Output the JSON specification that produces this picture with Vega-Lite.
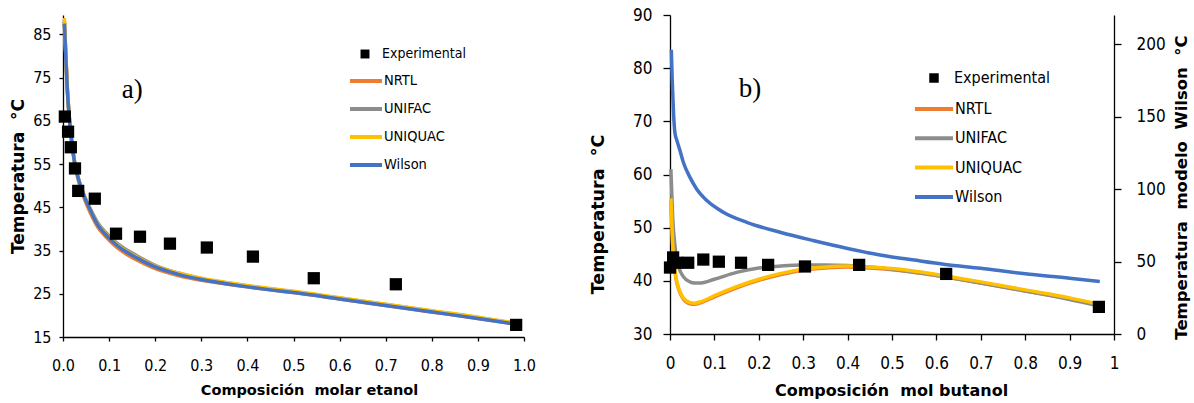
{
  "$schema": "https://vega.github.io/schema/vega-lite/v6.json",
  "padding": {"left": 9, "top": 6, "right": 5, "bottom": 5},
  "bounds": "flush",
  "spacing": 146,
  "background": "white",
  "config": {
    "view": {"stroke": null},
    "font": "DejaVu Sans Condensed, DejaVu Sans",
    "axis": {
      "grid": false, "domainColor": "black", "tickColor": "black", "labelColor": "black", "titleColor": "black",
      "domainWidth": 1.3, "tickWidth": 1.3, "labelFlush": false,
      "labelFont": "DejaVu Sans Condensed, DejaVu Sans", "labelFontSize": 16,
      "titleFont": "DejaVu Sans", "titleFontWeight": "bold", "titleFontSize": 16, "titleBaseline": "middle"
    },
    "legend": {"labelFont": "DejaVu Sans Condensed, DejaVu Sans", "labelColor": "black", "padding": 0}
  },
  "datasets": {
    "a_exp": [
      {"x": 0.004, "T": 66.0, "serie": "Experimental"},
      {"x": 0.011, "T": 62.5, "serie": "Experimental"},
      {"x": 0.017, "T": 58.9, "serie": "Experimental"},
      {"x": 0.026, "T": 54.0, "serie": "Experimental"},
      {"x": 0.033, "T": 48.8, "serie": "Experimental"},
      {"x": 0.069, "T": 47.0, "serie": "Experimental"},
      {"x": 0.115, "T": 38.9, "serie": "Experimental"},
      {"x": 0.167, "T": 38.2, "serie": "Experimental"},
      {"x": 0.232, "T": 36.6, "serie": "Experimental"},
      {"x": 0.312, "T": 35.7, "serie": "Experimental"},
      {"x": 0.412, "T": 33.6, "serie": "Experimental"},
      {"x": 0.544, "T": 28.6, "serie": "Experimental"},
      {"x": 0.722, "T": 27.2, "serie": "Experimental"},
      {"x": 0.983, "T": 17.8, "serie": "Experimental"}
    ],
    "a_models": [
      {"model": "NRTL", "x": 0.003, "T": 88.0}, {"model": "NRTL", "x": 0.006, "T": 80.5}, {"model": "NRTL", "x": 0.009, "T": 73.0},
      {"model": "NRTL", "x": 0.013, "T": 66.5}, {"model": "NRTL", "x": 0.018, "T": 60.8}, {"model": "NRTL", "x": 0.025, "T": 55.2},
      {"model": "NRTL", "x": 0.035, "T": 50.6}, {"model": "NRTL", "x": 0.047, "T": 46.8}, {"model": "NRTL", "x": 0.06, "T": 43.6},
      {"model": "NRTL", "x": 0.075, "T": 40.5}, {"model": "NRTL", "x": 0.09, "T": 38.5}, {"model": "NRTL", "x": 0.1, "T": 37.4},
      {"model": "NRTL", "x": 0.115, "T": 35.9}, {"model": "NRTL", "x": 0.13, "T": 34.7}, {"model": "NRTL", "x": 0.16, "T": 32.8},
      {"model": "NRTL", "x": 0.2, "T": 30.8}, {"model": "NRTL", "x": 0.25, "T": 29.2}, {"model": "NRTL", "x": 0.3, "T": 28.1},
      {"model": "NRTL", "x": 0.35, "T": 27.3}, {"model": "NRTL", "x": 0.4, "T": 26.6}, {"model": "NRTL", "x": 0.45, "T": 25.9},
      {"model": "NRTL", "x": 0.5, "T": 25.3}, {"model": "NRTL", "x": 0.6, "T": 23.8}, {"model": "NRTL", "x": 0.7, "T": 22.3},
      {"model": "NRTL", "x": 0.8, "T": 20.8}, {"model": "NRTL", "x": 0.9, "T": 19.3}, {"model": "NRTL", "x": 0.98, "T": 18.0},
      {"model": "UNIFAC", "x": 0.003, "T": 88.0}, {"model": "UNIFAC", "x": 0.006, "T": 80.5}, {"model": "UNIFAC", "x": 0.009, "T": 73.2},
      {"model": "UNIFAC", "x": 0.013, "T": 66.8}, {"model": "UNIFAC", "x": 0.018, "T": 61.2}, {"model": "UNIFAC", "x": 0.025, "T": 55.6},
      {"model": "UNIFAC", "x": 0.035, "T": 51.1}, {"model": "UNIFAC", "x": 0.047, "T": 47.5}, {"model": "UNIFAC", "x": 0.06, "T": 44.5},
      {"model": "UNIFAC", "x": 0.075, "T": 41.5}, {"model": "UNIFAC", "x": 0.09, "T": 39.5}, {"model": "UNIFAC", "x": 0.1, "T": 38.4},
      {"model": "UNIFAC", "x": 0.115, "T": 36.9}, {"model": "UNIFAC", "x": 0.13, "T": 35.7}, {"model": "UNIFAC", "x": 0.16, "T": 33.8},
      {"model": "UNIFAC", "x": 0.2, "T": 31.6}, {"model": "UNIFAC", "x": 0.25, "T": 29.8}, {"model": "UNIFAC", "x": 0.3, "T": 28.5},
      {"model": "UNIFAC", "x": 0.35, "T": 27.6}, {"model": "UNIFAC", "x": 0.4, "T": 26.8}, {"model": "UNIFAC", "x": 0.45, "T": 26.1},
      {"model": "UNIFAC", "x": 0.5, "T": 25.5}, {"model": "UNIFAC", "x": 0.6, "T": 24.0}, {"model": "UNIFAC", "x": 0.7, "T": 22.5},
      {"model": "UNIFAC", "x": 0.8, "T": 21.0}, {"model": "UNIFAC", "x": 0.9, "T": 19.5}, {"model": "UNIFAC", "x": 0.98, "T": 18.2},
      {"model": "UNIQUAC", "x": 0.003, "T": 88.8}, {"model": "UNIQUAC", "x": 0.006, "T": 81.0}, {"model": "UNIQUAC", "x": 0.009, "T": 73.5},
      {"model": "UNIQUAC", "x": 0.013, "T": 67.0}, {"model": "UNIQUAC", "x": 0.018, "T": 61.2}, {"model": "UNIQUAC", "x": 0.025, "T": 55.6},
      {"model": "UNIQUAC", "x": 0.035, "T": 51.1}, {"model": "UNIQUAC", "x": 0.047, "T": 47.4}, {"model": "UNIQUAC", "x": 0.06, "T": 44.3},
      {"model": "UNIQUAC", "x": 0.075, "T": 41.2}, {"model": "UNIQUAC", "x": 0.09, "T": 39.2}, {"model": "UNIQUAC", "x": 0.1, "T": 38.1},
      {"model": "UNIQUAC", "x": 0.115, "T": 36.6}, {"model": "UNIQUAC", "x": 0.13, "T": 35.4}, {"model": "UNIQUAC", "x": 0.16, "T": 33.5},
      {"model": "UNIQUAC", "x": 0.2, "T": 31.4}, {"model": "UNIQUAC", "x": 0.25, "T": 29.8}, {"model": "UNIQUAC", "x": 0.3, "T": 28.6},
      {"model": "UNIQUAC", "x": 0.35, "T": 27.7}, {"model": "UNIQUAC", "x": 0.4, "T": 26.9}, {"model": "UNIQUAC", "x": 0.45, "T": 26.2},
      {"model": "UNIQUAC", "x": 0.5, "T": 25.6}, {"model": "UNIQUAC", "x": 0.6, "T": 24.1}, {"model": "UNIQUAC", "x": 0.7, "T": 22.6},
      {"model": "UNIQUAC", "x": 0.8, "T": 21.1}, {"model": "UNIQUAC", "x": 0.9, "T": 19.6}, {"model": "UNIQUAC", "x": 0.98, "T": 18.2},
      {"model": "Wilson", "x": 0.003, "T": 87.5}, {"model": "Wilson", "x": 0.006, "T": 80.0}, {"model": "Wilson", "x": 0.009, "T": 73.0},
      {"model": "Wilson", "x": 0.013, "T": 66.5}, {"model": "Wilson", "x": 0.018, "T": 61.0}, {"model": "Wilson", "x": 0.025, "T": 55.5},
      {"model": "Wilson", "x": 0.035, "T": 51.0}, {"model": "Wilson", "x": 0.047, "T": 47.3}, {"model": "Wilson", "x": 0.06, "T": 44.2},
      {"model": "Wilson", "x": 0.075, "T": 41.0}, {"model": "Wilson", "x": 0.09, "T": 39.0}, {"model": "Wilson", "x": 0.1, "T": 37.9},
      {"model": "Wilson", "x": 0.115, "T": 36.4}, {"model": "Wilson", "x": 0.13, "T": 35.2}, {"model": "Wilson", "x": 0.16, "T": 33.3},
      {"model": "Wilson", "x": 0.2, "T": 31.2}, {"model": "Wilson", "x": 0.25, "T": 29.5}, {"model": "Wilson", "x": 0.3, "T": 28.3},
      {"model": "Wilson", "x": 0.35, "T": 27.4}, {"model": "Wilson", "x": 0.4, "T": 26.6}, {"model": "Wilson", "x": 0.45, "T": 25.9},
      {"model": "Wilson", "x": 0.5, "T": 25.3}, {"model": "Wilson", "x": 0.6, "T": 23.8}, {"model": "Wilson", "x": 0.7, "T": 22.3},
      {"model": "Wilson", "x": 0.8, "T": 20.8}, {"model": "Wilson", "x": 0.9, "T": 19.3}, {"model": "Wilson", "x": 0.98, "T": 18.0}
    ],
    "b_exp": [
      {"x": 0.0, "T": 42.5, "serie": "Experimental"},
      {"x": 0.007, "T": 44.4, "serie": "Experimental"},
      {"x": 0.016, "T": 43.4, "serie": "Experimental"},
      {"x": 0.041, "T": 43.4, "serie": "Experimental"},
      {"x": 0.075, "T": 44.0, "serie": "Experimental"},
      {"x": 0.11, "T": 43.6, "serie": "Experimental"},
      {"x": 0.16, "T": 43.4, "serie": "Experimental"},
      {"x": 0.221, "T": 43.0, "serie": "Experimental"},
      {"x": 0.304, "T": 42.7, "serie": "Experimental"},
      {"x": 0.426, "T": 43.0, "serie": "Experimental"},
      {"x": 0.622, "T": 41.3, "serie": "Experimental"},
      {"x": 0.966, "T": 35.1, "serie": "Experimental"}
    ],
    "b_models": [
      {"model": "NRTL", "x": 0.002, "T": 55.0}, {"model": "NRTL", "x": 0.006, "T": 46.6}, {"model": "NRTL", "x": 0.012, "T": 41.2},
      {"model": "NRTL", "x": 0.02, "T": 38.3}, {"model": "NRTL", "x": 0.03, "T": 36.6}, {"model": "NRTL", "x": 0.045, "T": 35.7},
      {"model": "NRTL", "x": 0.055, "T": 35.6}, {"model": "NRTL", "x": 0.07, "T": 35.9}, {"model": "NRTL", "x": 0.1, "T": 37.0},
      {"model": "NRTL", "x": 0.15, "T": 38.7}, {"model": "NRTL", "x": 0.2, "T": 40.1}, {"model": "NRTL", "x": 0.25, "T": 41.2},
      {"model": "NRTL", "x": 0.3, "T": 42.0}, {"model": "NRTL", "x": 0.35, "T": 42.4}, {"model": "NRTL", "x": 0.4, "T": 42.6},
      {"model": "NRTL", "x": 0.45, "T": 42.4}, {"model": "NRTL", "x": 0.5, "T": 42.1}, {"model": "NRTL", "x": 0.6, "T": 41.0},
      {"model": "NRTL", "x": 0.7, "T": 39.6}, {"model": "NRTL", "x": 0.8, "T": 38.1}, {"model": "NRTL", "x": 0.9, "T": 36.6},
      {"model": "NRTL", "x": 0.965, "T": 35.4},
      {"model": "UNIFAC", "x": 0.002, "T": 61.0}, {"model": "UNIFAC", "x": 0.006, "T": 52.0}, {"model": "UNIFAC", "x": 0.012, "T": 46.0},
      {"model": "UNIFAC", "x": 0.02, "T": 42.5}, {"model": "UNIFAC", "x": 0.03, "T": 40.8}, {"model": "UNIFAC", "x": 0.045, "T": 39.8},
      {"model": "UNIFAC", "x": 0.055, "T": 39.6}, {"model": "UNIFAC", "x": 0.07, "T": 39.6}, {"model": "UNIFAC", "x": 0.1, "T": 40.3},
      {"model": "UNIFAC", "x": 0.15, "T": 41.6}, {"model": "UNIFAC", "x": 0.2, "T": 42.4}, {"model": "UNIFAC", "x": 0.25, "T": 42.8},
      {"model": "UNIFAC", "x": 0.3, "T": 43.0}, {"model": "UNIFAC", "x": 0.35, "T": 43.0}, {"model": "UNIFAC", "x": 0.4, "T": 42.9},
      {"model": "UNIFAC", "x": 0.45, "T": 42.6}, {"model": "UNIFAC", "x": 0.5, "T": 42.2}, {"model": "UNIFAC", "x": 0.6, "T": 41.0},
      {"model": "UNIFAC", "x": 0.7, "T": 39.6}, {"model": "UNIFAC", "x": 0.8, "T": 38.1}, {"model": "UNIFAC", "x": 0.9, "T": 36.5},
      {"model": "UNIFAC", "x": 0.965, "T": 35.3},
      {"model": "UNIQUAC", "x": 0.002, "T": 55.5}, {"model": "UNIQUAC", "x": 0.006, "T": 47.0}, {"model": "UNIQUAC", "x": 0.012, "T": 41.5},
      {"model": "UNIQUAC", "x": 0.02, "T": 38.5}, {"model": "UNIQUAC", "x": 0.03, "T": 36.8}, {"model": "UNIQUAC", "x": 0.045, "T": 35.9},
      {"model": "UNIQUAC", "x": 0.055, "T": 35.8}, {"model": "UNIQUAC", "x": 0.07, "T": 36.1}, {"model": "UNIQUAC", "x": 0.1, "T": 37.2},
      {"model": "UNIQUAC", "x": 0.15, "T": 38.9}, {"model": "UNIQUAC", "x": 0.2, "T": 40.3}, {"model": "UNIQUAC", "x": 0.25, "T": 41.4},
      {"model": "UNIQUAC", "x": 0.3, "T": 42.2}, {"model": "UNIQUAC", "x": 0.35, "T": 42.6}, {"model": "UNIQUAC", "x": 0.4, "T": 42.8},
      {"model": "UNIQUAC", "x": 0.45, "T": 42.6}, {"model": "UNIQUAC", "x": 0.5, "T": 42.3}, {"model": "UNIQUAC", "x": 0.6, "T": 41.2},
      {"model": "UNIQUAC", "x": 0.7, "T": 39.8}, {"model": "UNIQUAC", "x": 0.8, "T": 38.3}, {"model": "UNIQUAC", "x": 0.9, "T": 36.8},
      {"model": "UNIQUAC", "x": 0.965, "T": 35.6}
    ],
    "b_wilson": [
      {"model": "Wilson", "x": 0.003, "W": 196}, {"model": "Wilson", "x": 0.005, "W": 175}, {"model": "Wilson", "x": 0.008, "W": 152},
      {"model": "Wilson", "x": 0.011, "W": 139}, {"model": "Wilson", "x": 0.016, "W": 133}, {"model": "Wilson", "x": 0.022, "W": 127},
      {"model": "Wilson", "x": 0.03, "W": 118.5}, {"model": "Wilson", "x": 0.045, "W": 108}, {"model": "Wilson", "x": 0.06, "W": 100},
      {"model": "Wilson", "x": 0.083, "W": 92}, {"model": "Wilson", "x": 0.12, "W": 84}, {"model": "Wilson", "x": 0.173, "W": 77},
      {"model": "Wilson", "x": 0.25, "W": 70}, {"model": "Wilson", "x": 0.322, "W": 64.5}, {"model": "Wilson", "x": 0.4, "W": 59},
      {"model": "Wilson", "x": 0.473, "W": 54.5}, {"model": "Wilson", "x": 0.55, "W": 51}, {"model": "Wilson", "x": 0.62, "W": 48},
      {"model": "Wilson", "x": 0.7, "W": 45.3}, {"model": "Wilson", "x": 0.8, "W": 41.5}, {"model": "Wilson", "x": 0.9, "W": 38.5},
      {"model": "Wilson", "x": 0.968, "W": 36.2}
    ],
    "a_label": [{"x": 0.15, "T": 72.2, "label": "a)"}],
    "b_label": [{"x": 0.18, "T": 76, "label": "b)"}]
  },
  "hconcat": [
    {
      "width": 461,
      "height": 322,
      "layer": [
        {
          "data": {"name": "a_models"},
          "mark": {"type": "line", "strokeWidth": 3.5, "interpolate": "monotone"},
          "encoding": {
            "x": {"field": "x", "type": "quantitative", "scale": {"domain": [0, 1], "nice": false},
              "axis": {"values": [0, 0.1, 0.2, 0.3, 0.4, 0.5, 0.6, 0.7, 0.8, 0.9, 1], "format": ".1f", "tickSize": 4, "labelPadding": 16,
                "title": "Composición\u00a0\u00a0molar\u00a0etanol", "titleFontSize": 14.5, "titleX": 246, "titleY": 53}},
            "y": {"field": "T", "type": "quantitative", "scale": {"domain": [15, 89.5], "nice": false, "zero": false},
              "axis": {"values": [15, 25, 35, 45, 55, 65, 75, 85], "tickSize": 4, "labelPadding": 8,
                "title": "Temperatura\u00a0\u00a0°C", "titleFontSize": 17, "titleX": -45, "titleY": 161}},
            "color": {"field": "model", "type": "nominal",
              "scale": {"domain": ["NRTL", "UNIFAC", "UNIQUAC", "Wilson"], "range": ["#ED7D31", "#8C8C8C", "#FFC000", "#4472C4"]},
              "legend": {"orient": "none", "legendX": 289, "legendY": 52, "title": null, "symbolType": "M-1.35,0H1.35",
                "symbolSize": 560, "symbolStrokeWidth": 4, "labelFontSize": 14.5, "labelOffset": 4, "rowPadding": 6}}
          }
        },
        {
          "data": {"name": "a_exp"},
          "mark": {"type": "point", "shape": "square", "filled": true, "size": 150, "opacity": 1, "color": "black"},
          "encoding": {
            "x": {"field": "x", "type": "quantitative"},
            "y": {"field": "T", "type": "quantitative"},
            "shape": {"field": "serie", "type": "nominal", "scale": {"range": ["square"]},
              "legend": {"orient": "none", "legendX": 295, "legendY": 32, "title": null, "symbolSize": 80,
                "symbolFillColor": "black", "symbolStrokeColor": "black", "labelFontSize": 14, "labelOffset": 10}}
          }
        },
        {
          "data": {"name": "a_label"},
          "mark": {"type": "text", "font": "Liberation Serif", "fontSize": 27, "color": "black"},
          "encoding": {
            "x": {"field": "x", "type": "quantitative"},
            "y": {"field": "T", "type": "quantitative"},
            "text": {"field": "label"}
          }
        }
      ]
    },
    {
      "width": 444,
      "height": 319,
      "layer": [
        {
          "layer": [
            {
              "data": {"name": "b_models"},
              "mark": {"type": "line", "strokeWidth": 3.5, "interpolate": "monotone"},
              "encoding": {
                "x": {"field": "x", "type": "quantitative", "scale": {"domain": [0, 1], "nice": false},
                  "axis": {"values": [0, 0.1, 0.2, 0.3, 0.4, 0.5, 0.6, 0.7, 0.8, 0.9, 1], "format": "~g", "tickSize": 6, "labelPadding": 15,
                    "labelFontSize": 17, "title": "Composición\u00a0\u00a0mol\u00a0butanol", "titleFontSize": 16, "titleX": 221, "titleY": 56}},
                "y": {"field": "T", "type": "quantitative", "scale": {"domain": [30, 90], "nice": false, "zero": false},
                  "axis": {"values": [30, 40, 50, 60, 70, 80, 90], "tickSize": 7, "labelPadding": 11, "labelFontSize": 17,
                    "title": "Temperatura\u00a0\u00a0°C", "titleFontSize": 17.5, "titleX": -72, "titleY": 199}},
                "color": {"field": "model", "type": "nominal",
                  "scale": {"domain": ["NRTL", "UNIFAC", "UNIQUAC", "Wilson"], "range": ["#ED7D31", "#8C8C8C", "#FFC000", "#4472C4"]},
                  "legend": {"orient": "none", "legendX": 249, "legendY": 79, "title": null, "symbolType": "M-1.48,0H1.48",
                    "symbolSize": 660, "symbolStrokeWidth": 4, "labelFontSize": 16, "labelOffset": 6, "rowPadding": 6.3}}
              }
            },
            {
              "data": {"name": "b_exp"},
              "mark": {"type": "point", "shape": "square", "filled": true, "size": 150, "opacity": 1, "color": "black"},
              "encoding": {
                "x": {"field": "x", "type": "quantitative"},
                "y": {"field": "T", "type": "quantitative"},
                "shape": {"field": "serie", "type": "nominal", "scale": {"range": ["square"]},
                  "legend": {"orient": "none", "legendX": 256, "legendY": 55, "title": null, "symbolSize": 90,
                    "symbolFillColor": "black", "symbolStrokeColor": "black", "labelFontSize": 16, "labelOffset": 12}}
              }
            },
            {
              "data": {"name": "b_label"},
              "mark": {"type": "text", "font": "Liberation Serif", "fontSize": 27, "color": "black"},
              "encoding": {
                "x": {"field": "x", "type": "quantitative"},
                "y": {"field": "T", "type": "quantitative"},
                "text": {"field": "label"}
              }
            }
          ]
        },
        {
          "data": {"name": "b_wilson"},
          "mark": {"type": "line", "strokeWidth": 3.5, "interpolate": "monotone"},
          "encoding": {
            "x": {"field": "x", "type": "quantitative"},
            "y": {"field": "W", "type": "quantitative", "scale": {"domain": [0, 220], "nice": false},
              "axis": {"orient": "right", "values": [0, 50, 100, 150, 200], "tickSize": 7, "labelPadding": 15, "labelFontSize": 17,
                "title": "Temperatura\u00a0\u00a0modelo\u00a0\u00a0Wilson\u00a0\u00a0°C", "titleFontSize": 16.5, "titleAngle": 270,
                "titleX": 67, "titleY": 172}},
            "color": {"field": "model", "type": "nominal"}
          }
        }
      ],
      "resolve": {"scale": {"y": "independent"}}
    }
  ],
  "resolve": {"scale": {"color": "independent", "shape": "independent"}, "legend": {"color": "independent", "shape": "independent"}}
}
